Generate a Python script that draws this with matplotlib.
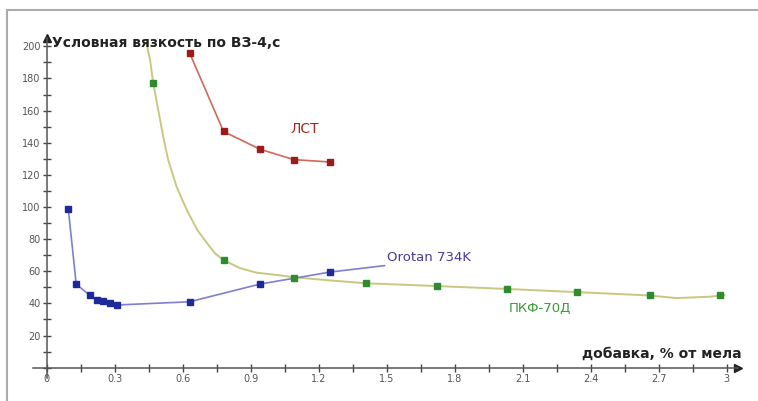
import numpy as np
import matplotlib.pyplot as plt
from matplotlib.ticker import MultipleLocator, FixedLocator, FixedFormatter

# data
orotan_x = [0.095, 0.13, 0.19, 0.22, 0.25, 0.28, 0.31, 0.63, 0.94, 1.25, 1.49]
orotan_y = [99, 52, 45, 42, 41.5, 40.5, 39, 41, 52, 59.5, 63.5]

lst_x = [0.63, 0.78, 0.94, 1.09, 1.25]
lst_y = [196, 147, 136, 129.5, 128]

pkf_x = [0.47, 0.78, 1.09, 1.41, 1.72, 2.03, 2.34, 2.66, 2.97]
pkf_y = [177, 67, 56, 52.5, 50.8, 49, 47, 45, 45]

# trend curve for ПКФ-70Д
pkf_curve_x = [0.44, 0.456, 0.47, 0.492, 0.514, 0.536, 0.573, 0.618, 0.665, 0.71,
               0.742, 0.78, 0.853, 0.926, 1.015, 1.09, 1.25, 1.41, 1.72, 2.03,
               2.34, 2.65, 2.78, 2.93, 2.99]
pkf_curve_y = [202, 191.4, 177, 160.4, 143.7, 129.2, 112.6, 98.1, 85.5, 77,
               71.2, 67, 61.9, 59.1, 57.7, 56.3, 54.3, 52.5, 50.8, 49,
               47, 45, 43.3, 44.2, 45.2]

x_ticks = [0, 0.3, 0.6, 0.9, 1.2, 1.5, 1.8, 2.1, 2.4, 2.7, 3.0]
x_labels = ["0", "0.3", "0.6", "0.9", "1.2", "1.5", "1.8", "2.1", "2.4", "2.7", "3"]
y_ticks = [20, 40, 60, 80, 100, 120, 140, 160, 180, 200]

fig = plt.figure(figsize=(7.58, 4.01), dpi=100)
ax = fig.add_axes([0.0437, 0.0571, 0.930, 0.8474])
ax.set_xlim(-0.06, 3.05)
ax.set_ylim(-6.5, 205)

for s in ["top", "right"]:
    ax.spines[s].set_visible(False)
for s in ["left", "bottom"]:
    ax.spines[s].set_position(("data", 0))
    ax.spines[s].set_color("#555555")
    ax.spines[s].set_linewidth(1.1)

# arrow heads
ax.plot(3.05, 0, marker=">", color="#222222", ms=6, clip_on=False)
ax.plot(0, 205, marker="^", color="#222222", ms=6, clip_on=False)

ax.xaxis.set_major_locator(FixedLocator(x_ticks))
ax.xaxis.set_major_formatter(FixedFormatter(x_labels))
ax.xaxis.set_minor_locator(MultipleLocator(0.15))
ax.yaxis.set_major_locator(FixedLocator(y_ticks))
ax.yaxis.set_minor_locator(MultipleLocator(10))
ax.tick_params(which="both", direction="inout", length=6, width=1, color="#444444")
ax.tick_params(axis="both", labelsize=7, labelcolor="#555555", pad=1.5)

ax.plot(pkf_curve_x, pkf_curve_y, color="#c8c880", lw=1.4, zorder=2)
ax.plot(pkf_x, pkf_y, ls="none", marker="s", ms=4.5, color="#2e8b2e", zorder=4)

ax.plot(lst_x, lst_y, color="#cc6a5a", lw=1.2, marker="s", ms=4.5,
        mfc="#9b1b1b", mec="#9b1b1b", zorder=3)

ax.plot(orotan_x, orotan_y, color="#7f7fd0", lw=1.2, marker="s", ms=4.5,
        mfc="#1f2a9a", mec="#1f2a9a", markevery=list(range(len(orotan_x) - 1)), zorder=3)

ax.text(1.14, 148.5, "ЛСТ", color="#a02a1a", fontsize=10, ha="center", va="center")
ax.text(1.5, 68.5, "Orotan 734K", color="#4b3a9a", fontsize=9.5, ha="left", va="center")
ax.text(2.04, 37, "ПКФ-70Д", color="#3a9a3a", fontsize=9.5, ha="left", va="center")

fig.text(0.069, 0.893, "Условная вязкость по ВЗ-4,с", fontsize=10,
         fontweight="bold", color="#222222", ha="left", va="center")
fig.text(0.978, 0.117, "добавка, % от мела", fontsize=10,
         fontweight="bold", color="#222222", ha="right", va="center")

# frame lines along the top and left edge
fig.add_artist(plt.Line2D([0.0092, 1.0], [0.975, 0.975], color="#aaaaaa", lw=1.5))
fig.add_artist(plt.Line2D([0.0092, 0.0092], [0.0, 0.975], color="#aaaaaa", lw=1.5))

fig.savefig("out.png", dpi=100)
